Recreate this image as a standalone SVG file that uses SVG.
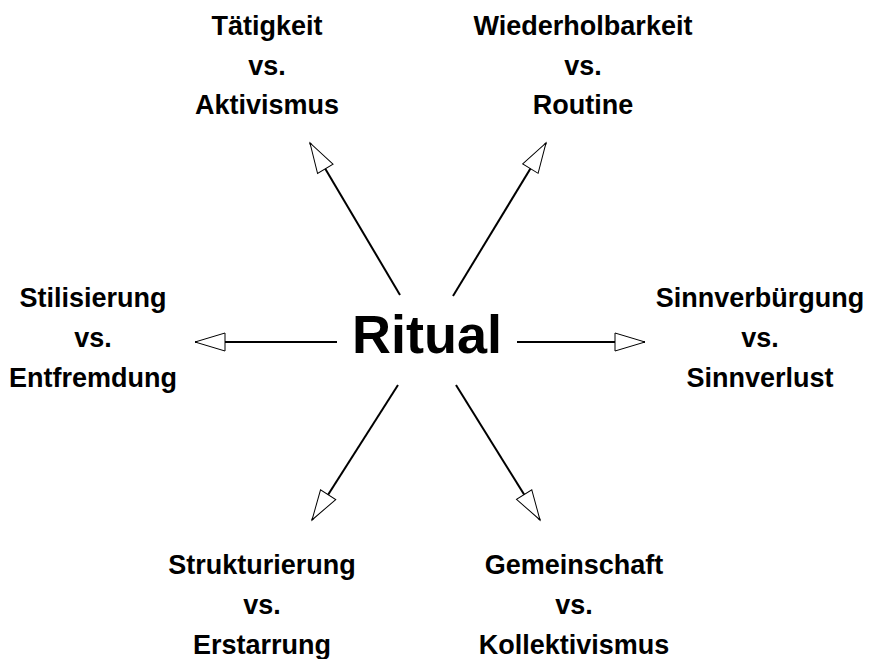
<svg xmlns="http://www.w3.org/2000/svg" width="870" height="659" viewBox="0 0 870 659">
<defs>
<style>
.lbl{font-family:"Liberation Sans",Arial,sans-serif;font-weight:bold;font-size:27px;fill:#000;text-anchor:middle}
.center{font-family:"Liberation Sans",Arial,sans-serif;font-weight:bold;font-size:54px;fill:#000;text-anchor:middle}
.con{stroke:#000;stroke-width:2;fill:none;marker-end:url(#arr)}
</style>
<marker id="arr" viewBox="-2 -2 34 22" refX="30" refY="9" markerWidth="34" markerHeight="22" markerUnits="userSpaceOnUse" orient="auto">
<path d="M0,0 L30,9 L0,18 Z" fill="#fff" stroke="#000" stroke-width="1"/>
</marker>
</defs>
<rect width="870" height="659" fill="#fff"/>
<g id="connectors">
<line class="con" x1="400" y1="295" x2="310" y2="143"/>
<line class="con" x1="453" y1="296" x2="546" y2="143"/>
<line class="con" x1="337" y1="342" x2="195" y2="342"/>
<line class="con" x1="517" y1="342" x2="645" y2="342"/>
<line class="con" x1="398" y1="385" x2="312" y2="520"/>
<line class="con" x1="456" y1="385" x2="540" y2="520"/>
</g>
<g id="ritual"><text class="center" x="427" y="353">Ritual</text></g>
<g id="taetigkeit"><text class="lbl" x="267" y="35">Tätigkeit</text><text class="lbl" x="267" y="74.5">vs.</text><text class="lbl" x="267" y="114">Aktivismus</text></g>
<g id="wiederholbarkeit"><text class="lbl" x="583" y="35">Wiederholbarkeit</text><text class="lbl" x="583" y="74.5">vs.</text><text class="lbl" x="583" y="114">Routine</text></g>
<g id="stilisierung"><text class="lbl" x="93" y="307">Stilisierung</text><text class="lbl" x="93" y="347">vs.</text><text class="lbl" x="93" y="387">Entfremdung</text></g>
<g id="sinnverbuergung"><text class="lbl" x="760" y="307">Sinnverbürgung</text><text class="lbl" x="760" y="347">vs.</text><text class="lbl" x="760" y="387">Sinnverlust</text></g>
<g id="strukturierung"><text class="lbl" x="262" y="574">Strukturierung</text><text class="lbl" x="262" y="614">vs.</text><text class="lbl" x="262" y="654">Erstarrung</text></g>
<g id="gemeinschaft"><text class="lbl" x="574" y="574">Gemeinschaft</text><text class="lbl" x="574" y="614">vs.</text><text class="lbl" x="574" y="654">Kollektivismus</text></g>
</svg>
